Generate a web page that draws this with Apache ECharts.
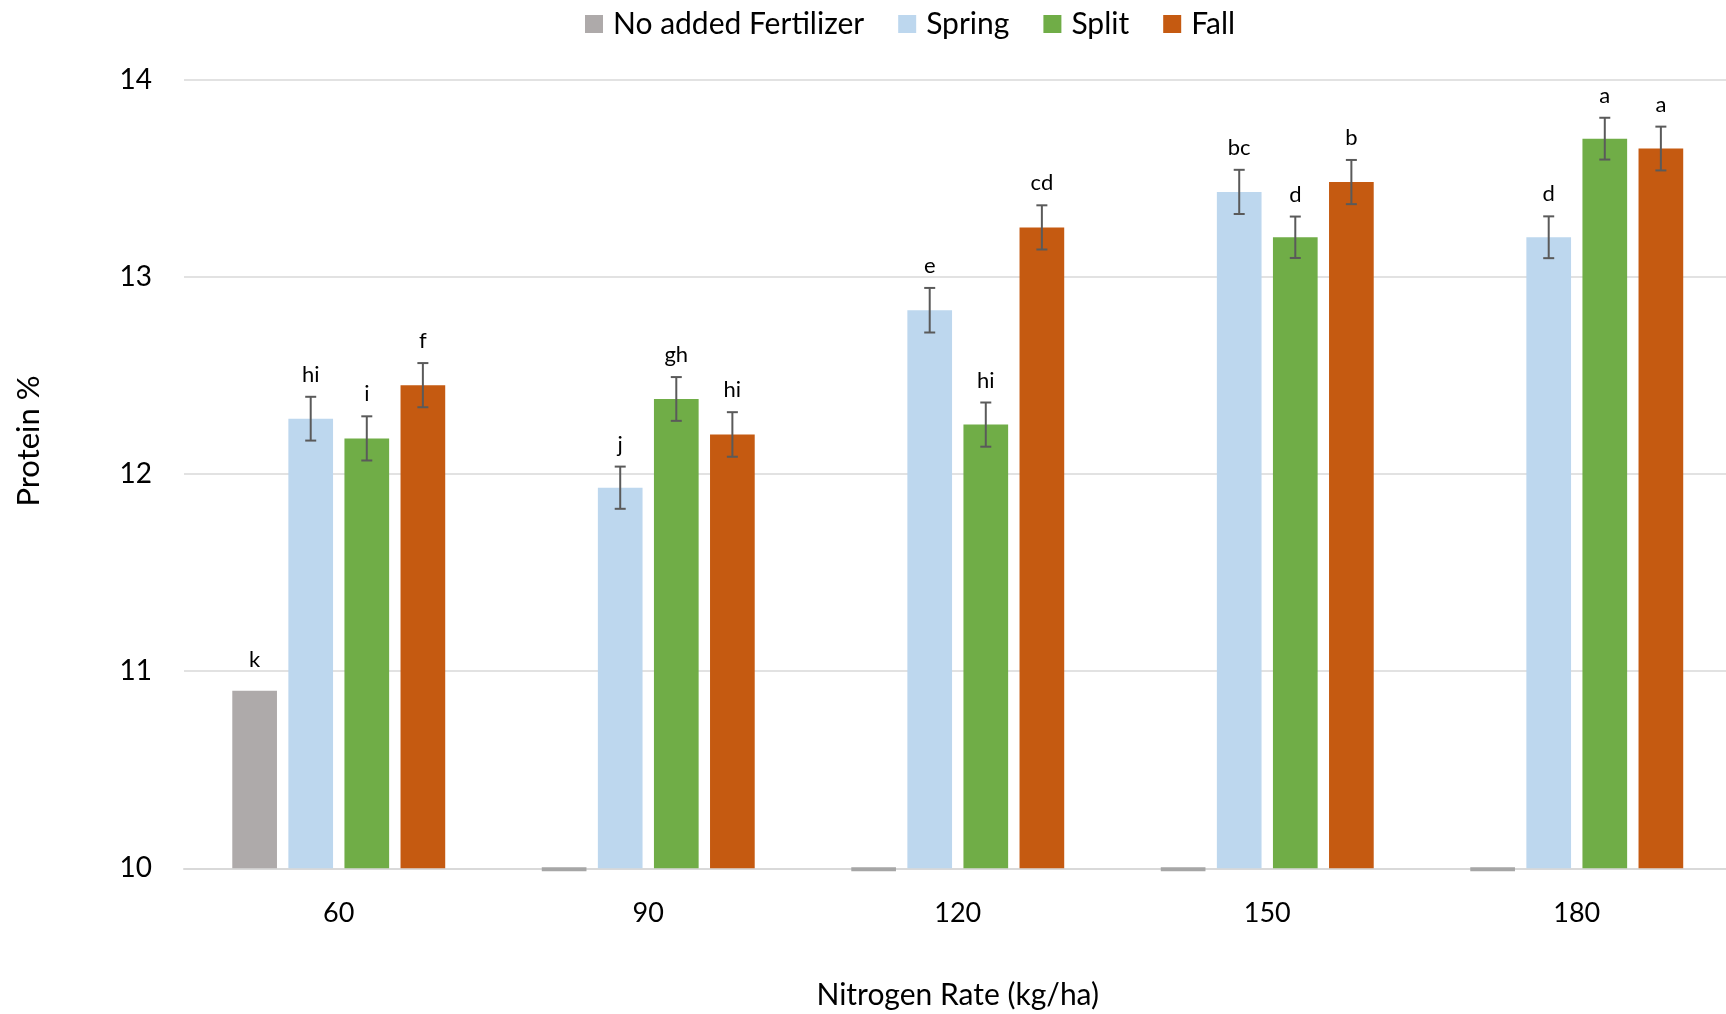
<!DOCTYPE html>
<html>
<head>
<meta charset="utf-8">
<script src="https://cdn.jsdelivr.net/npm/echarts@6/dist/echarts.min.js"></script>
<style>
html,body{margin:0;padding:0;background:#fff;}
#chart{width:1726px;height:1014px;}
</style>
</head>
<body>
<div id="chart"></div>
<script>
// ---- Data ----
const categories = ['60', '90', '120', '150', '180'];
const seriesNames = ['No added Fertilizer', 'Spring', 'Split', 'Fall'];

const noFert = [10.90, 10, 10, 10, 10];
const spring = [12.28, 11.93, 12.83, 13.43, 13.20];
const split  = [12.18, 12.38, 12.25, 13.20, 13.70];
const fall   = [12.45, 12.20, 13.25, 13.48, 13.65];

const noFertErr = [0, 0, 0, 0, 0];
const springErr = [0.111, 0.107, 0.113, 0.112, 0.106];
const splitErr  = [0.112, 0.111, 0.112, 0.105, 0.106];
const fallErr   = [0.112, 0.113, 0.112, 0.112, 0.111];

const noFertLetters = ['k', '', '', '', ''];
const springLetters = ['hi', 'j', 'e', 'bc', 'd'];
const splitLetters  = ['i', 'gh', 'hi', 'd', 'a'];
const fallLetters   = ['f', 'hi', 'cd', 'b', 'a'];

const yTicks = { min: 10, max: 14, interval: 1 };

// ---- Styles ----
const colors = ['#AEAAAA', '#BDD7EE', '#70AD47', '#C55A11'];
const FONT = 'Lato, "Noto Sans", sans-serif';
const BAR_CAT_GAP = 0.312;
const BAR_GAP = 0.255;

const groups = [
  { values: noFert, err: noFertErr, letters: noFertLetters },
  { values: spring, err: springErr, letters: springLetters },
  { values: split,  err: splitErr,  letters: splitLetters },
  { values: fall,   err: fallErr,   letters: fallLetters }
];

const chart = echarts.init(document.getElementById('chart'), null, { renderer: 'canvas' });

const series = [];
groups.forEach((g, i) => {
  series.push({
    name: seriesNames[i],
    type: 'bar',
    barGap: (BAR_GAP * 100) + '%',
    barCategoryGap: (BAR_CAT_GAP * 100) + '%',
    clip: true,
    itemStyle: { color: colors[i] },
    emphasis: { disabled: true },
    data: g.values
  });
});

groups.forEach((g, i) => {
  series.push({
    type: 'custom',
    clip: false,
    silent: true,
    z: 5,
    encode: { x: 0, y: 1 },
    data: g.values.map((v, k) => [k, v, g.err[k]]),
    renderItem: function (params, api) {
      const ci = api.value(0);
      const v = api.value(1);
      const e = api.value(2);
      const letter = g.letters[params.dataIndex];
      const band = api.size([1, 0])[0];
      const bw = band * (1 - BAR_CAT_GAP) / (4 + 3 * BAR_GAP);
      const base = api.coord([ci, v]);
      const cx = base[0] + (i - 1.5) * bw * (1 + BAR_GAP);
      const children = [];
      let textY;
      if (v <= yTicks.min) {
        // zero-height bar: shown as a short grey dash on the axis
        children.push({
          type: 'rect',
          shape: { x: cx - bw / 2, y: base[1] - 1, width: bw, height: 4 },
          style: { fill: '#A6A6A6' }
        });
      }
      if (e > 0) {
        const top = api.coord([ci, v + e])[1];
        const bot = api.coord([ci, v - e])[1];
        const ls = { stroke: '#5A5A5A', lineWidth: 2 };
        children.push({ type: 'line', shape: { x1: cx, y1: top, x2: cx, y2: bot }, style: ls });
        children.push({ type: 'line', shape: { x1: cx - 5.5, y1: top, x2: cx + 5.5, y2: top }, style: ls });
        children.push({ type: 'line', shape: { x1: cx - 5.5, y1: bot, x2: cx + 5.5, y2: bot }, style: ls });
        textY = top - 11;
      } else {
        textY = base[1] - 20;
      }
      if (letter) {
        children.push({
          type: 'text',
          style: {
            x: cx, y: textY, text: letter,
            align: 'center', verticalAlign: 'bottom',
            font: '22px ' + FONT, fill: '#000'
          }
        });
      }
      return { type: 'group', children: children };
    }
  });
});

const option = {
  backgroundColor: '#fff',
  animation: false,
  legend: {
    data: seriesNames,
    top: 4,
    left: 580,
    icon: 'rect',
    itemWidth: 18,
    itemHeight: 18,
    itemGap: 34,
    selectedMode: false,
    textStyle: { fontFamily: FONT, fontSize: 30, color: '#000', padding: [0, 0, 0, 5] }
  },
  grid: {
    left: 184,
    top: 79.5,
    width: 1547.5,
    height: 788.8,
    containLabel: false,
    outerBoundsMode: 'none'
  },
  xAxis: {
    type: 'category',
    data: categories,
    axisTick: { show: false },
    axisLine: { lineStyle: { color: '#D9D9D9', width: 2 } },
    axisLabel: { fontFamily: FONT, fontSize: 27, color: '#000', margin: 31 },
    name: 'Nitrogen Rate (kg/ha)',
    nameLocation: 'middle',
    nameGap: 112,
    nameTextStyle: { fontFamily: FONT, fontSize: 30, color: '#000' }
  },
  yAxis: {
    type: 'value',
    min: yTicks.min,
    max: yTicks.max,
    interval: yTicks.interval,
    axisLine: { show: false },
    axisTick: { show: false },
    splitLine: { lineStyle: { color: '#D9D9D9', width: 1.6 } },
    axisLabel: { fontFamily: FONT, fontSize: 28, color: '#000', margin: 32 }
  },
  graphic: [{
    type: 'text',
    x: 29,
    y: 441,
    rotation: Math.PI / 2,
    style: {
      text: 'Protein %',
      align: 'center',
      verticalAlign: 'middle',
      font: '31px ' + FONT,
      fill: '#000'
    }
  }],
  series: series
};

chart.setOption(option);
</script>
</body>
</html>
